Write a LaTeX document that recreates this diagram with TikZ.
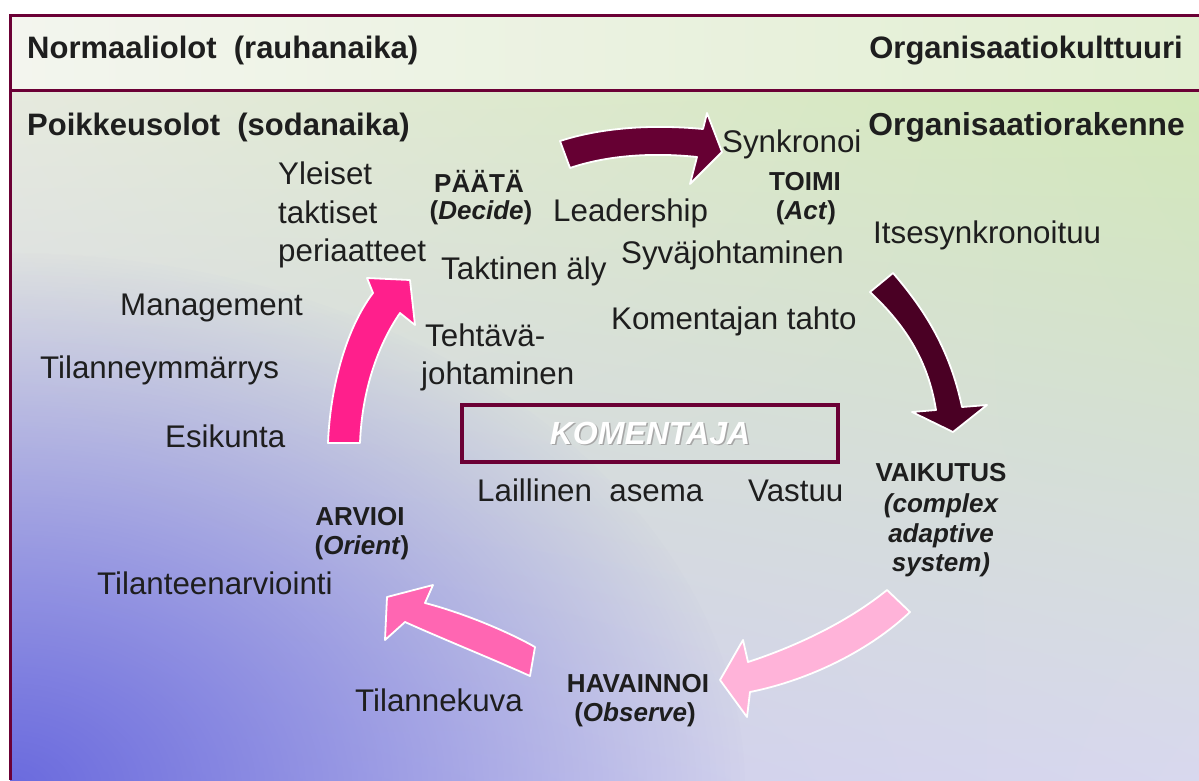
\documentclass[tikz,border=0pt]{standalone}
\usepackage{fontspec}
\setmainfont{Liberation Sans}
\usetikzlibrary{fadings,shadings}

\definecolor{frame}{HTML}{6B0035}
\definecolor{ink}{HTML}{1E1E1E}
\definecolor{actarrow}{HTML}{660033}
\definecolor{effarrow}{HTML}{4A0024}
\definecolor{decarrow}{HTML}{FF1F8C}
\definecolor{oriarrow}{HTML}{FF66B2}
\definecolor{obsarrow}{HTML}{FFB3D9}
\definecolor{glowblue}{HTML}{6A6ADE}
\definecolor{bandleft}{HTML}{F3F5EE}
\definecolor{bandright}{HTML}{E2EFD2}
\definecolor{fieldul}{HTML}{E6EADE}
\definecolor{fieldur}{HTML}{D2E8B8}
\definecolor{fieldll}{HTML}{CACAEA}
\definecolor{fieldlr}{HTML}{D8D8EE}

\tikzfading[name=glowfade, inner color=transparent!0, outer color=transparent!100]

\begin{document}
\begin{tikzpicture}[x=1pt,y=-1pt,
  txt/.style={font=\fontsize{31.3}{37}\selectfont, text=ink, inner sep=0pt, text height=22.4pt, text depth=0pt},
  phase/.style={font=\fontsize{26}{31}\selectfont\bfseries, text=ink, inner sep=0pt, text height=18.6pt, text depth=0pt},
  head/.style={font=\fontsize{31}{37}\selectfont\bfseries, text=ink, inner sep=0pt, text height=22.2pt, text depth=0pt},
  blockarrow/.style={draw=white, line width=1.8pt, line join=round}
]
\useasboundingbox (0,0) rectangle (1199,780);
\fill[white] (0,0) rectangle (1199,780);

% backgrounds of the two bands
\shade[left color=bandleft, right color=bandright] (10,15) rectangle (1199,90);
\shade[upper left=fieldul, upper right=fieldur, lower left=fieldll, lower right=fieldlr]
  (10,90) rectangle (1199,780);
\begin{scope}
  \clip (10,90) rectangle (1199,780);
  \fill[glowblue, path fading=glowfade] (10,790) ellipse [x radius=740pt, y radius=540pt];
\end{scope}

% frame lines
\draw[frame, line width=3pt] (1199,15) -- (10,15) -- (10,780);
\draw[frame, line width=3pt] (10,90) -- (1199,90);

% band titles
\node[head, anchor=west] (peace) at (27,47) {Normaaliolot\ \ (rauhanaika)};
\node[head, anchor=east] (culture) at (1183,47) {Organisaatiokulttuuri};
\node[head, anchor=west] (war) at (27,124) {Poikkeusolot\ \ (sodanaika)};
\node[head, anchor=east, font=\fontsize{31.8}{37}\selectfont\bfseries] (structure) at (1185,124) {Organisaatiorakenne};

% cycle arrows
\draw[blockarrow, fill=actarrow]
  (560,141) .. controls (600,128) and (650,124) .. (703,129) -- (707,113) -- (722,152)
  -- (690,184) -- (697,157) .. controls (650,152) and (605,156) .. (570,168) -- cycle;
\draw[blockarrow, fill=effarrow]
  (893,273) .. controls (925,310) and (950,350) .. (962,407) -- (987,405) -- (953,432)
  -- (912,412) -- (936,410) .. controls (928,360) and (905,325) .. (870,292) -- cycle;
\draw[blockarrow, fill=obsarrow]
  (887,590) .. controls (850,620) and (800,645) .. (748,662) -- (743,640) -- (720,680)
  -- (747,717) -- (750,692) .. controls (810,680) and (870,650) .. (910,612) -- cycle;
\draw[blockarrow, fill=oriarrow]
  (535,647) .. controls (505,630) and (460,612) .. (425,603) -- (433,585) -- (387,597)
  -- (385,640) -- (405,622) .. controls (445,640) and (495,660) .. (530,676) -- cycle;
\draw[blockarrow, fill=decarrow]
  (328,443) .. controls (330,390) and (345,330) .. (373,293) -- (367,278) -- (410,280)
  -- (415,325) -- (400,313) .. controls (378,345) and (362,390) .. (360,443) -- cycle;

% phase labels
\node[phase] (decide) at (479,183) {PÄÄTÄ};
\node[phase] (decideen) at (481,210) {(\textit{Decide})};
\node[phase] (act) at (805,181) {TOIMI};
\node[phase] (acten) at (806,210) {(\textit{Act})};
\node[phase] (effect) at (941,472) {VAIKUTUS};
\node[phase, font=\fontsize{26}{31}\selectfont\bfseries\itshape] (effect1) at (941,503) {(complex};
\node[phase, font=\fontsize{26}{31}\selectfont\bfseries\itshape] (effect2) at (941,533) {adaptive};
\node[phase, font=\fontsize{26}{31}\selectfont\bfseries\itshape] (effect3) at (941,562) {system)};
\node[phase] (orient) at (360,516) {ARVIOI};
\node[phase] (orienten) at (362,545) {(\textit{Orient})};
\node[phase] (observe) at (638,683) {HAVAINNOI};
\node[phase] (observeen) at (635,712) {(\textit{Observe})};

% surrounding concepts
\node[txt, anchor=west] (sync) at (722,141) {Synkronoi};
\node[txt, anchor=west] (gen1) at (278,173) {Yleiset};
\node[txt, anchor=west] (gen2) at (278,212) {taktiset};
\node[txt, anchor=west] (gen3) at (278,250) {periaatteet};
\node[txt, anchor=west] (lead) at (553,210) {Leadership};
\node[txt, anchor=west] (selfsync) at (873,232) {Itsesynkronoituu};
\node[txt, anchor=west] (deep) at (621,252) {Syväjohtaminen};
\node[txt, anchor=west] (tact) at (441,268) {Taktinen äly};
\node[txt, anchor=west] (mgmt) at (120,304) {Management};
\node[txt, anchor=west] (will) at (611,318) {Komentajan tahto};
\node[txt, anchor=west] (mission1) at (425,335) {Tehtävä-};
\node[txt, anchor=west] (mission2) at (421,373) {johtaminen};
\node[txt, anchor=west] (aware) at (40,367) {Tilanneymmärrys};
\node[txt, anchor=west] (staff) at (165,436) {Esikunta};
\node[txt, anchor=west] (legal) at (477,490) {Laillinen\ \ asema};
\node[txt, anchor=west] (resp) at (748,490) {Vastuu};
\node[txt, anchor=west] (estim) at (97,583) {Tilanteenarviointi};
\node[txt, anchor=west] (picture) at (355,700) {Tilannekuva};

% commander box
\node[inner sep=0pt, font=\fontsize{32}{38}\selectfont\bfseries\itshape, text=gray!70]
  (bossshadow) at (651.5,434.5) {KOMENTAJA};
\node[draw=frame, line width=4pt, minimum width=376pt, minimum height=57pt, inner sep=0pt,
      font=\fontsize{32}{38}\selectfont\bfseries\itshape, text=white]
  (boss) at (650,433.5) {KOMENTAJA};
\end{tikzpicture}
\end{document}
